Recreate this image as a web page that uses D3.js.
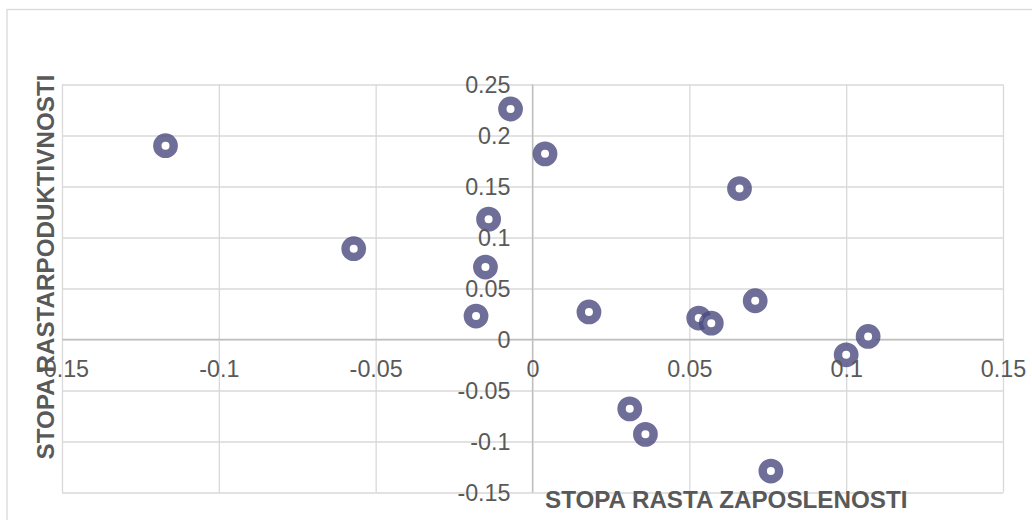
<!DOCTYPE html>
<html>
<head>
<meta charset="utf-8">
<script src="https://cdn.jsdelivr.net/npm/d3@7"></script>
<style>
  body { margin: 0; background: #fff; }
  svg { display: block; font-family: "Liberation Sans", Arial, sans-serif; }
  .tick-label text { fill: #595959; font-size: 23.3px; }
  .axis-title { fill: #595959; font-size: 24.2px; font-weight: bold; }
</style>
</head>
<body>
<div id="chart"></div>
<script>
// stopa rasta zaposlenosti (x) / stopa rasta produktivnosti (y)
var employmentGrowth = [-0.117, -0.057, -0.007, 0.004, -0.014, -0.015, -0.018, 0.018, 0.066,
  0.053, 0.057, 0.071, 0.107, 0.1, 0.031, 0.036, 0.076];
var productivityGrowth = [0.19, 0.089, 0.226, 0.182, 0.118, 0.071, 0.023, 0.027, 0.148,
  0.021, 0.016, 0.038, 0.003, -0.015, -0.068, -0.093, -0.129];

var xTicks = [-0.15, -0.1, -0.05, 0, 0.05, 0.1, 0.15];
var yTicks = [-0.15, -0.1, -0.05, 0, 0.05, 0.1, 0.15, 0.2, 0.25];

var xTitle = "STOPA RASTA ZAPOSLENOSTI";
var yTitle = "STOPA RASTARPODUKTIVNOSTI";

var width = 1032, height = 520;
var margin = { top: 84.5, right: 29, bottom: 27.5, left: 62 };

var points = employmentGrowth.map((d, i) => ({ x: d, y: productivityGrowth[i] }));

var fmt = (d) => String(+d.toFixed(2));

var svg = d3
  .select("#chart")
  .append("svg")
  .attr("width", width)
  .attr("height", height);

// chart border (only top/left fall inside the picture)
svg
  .append("rect")
  .attr("x", 7)
  .attr("y", 9.5)
  .attr("width", width + 20)
  .attr("height", height + 20)
  .attr("fill", "none")
  .attr("stroke", "#d9d9d9")
  .attr("stroke-width", 1.3);

var x = d3
  .scaleLinear()
  .domain([-0.15, 0.15])
  .range([margin.left, width - margin.right]);

var y = d3
  .scaleLinear()
  .domain([-0.15, 0.25])
  .range([height - margin.bottom, margin.top]);

// vertical gridlines
var gx = svg
  .append("g")
  .attr("transform", "translate(0," + y(-0.15) + ")")
  .call(
    d3.axisBottom(x)
      .tickValues(xTicks)
      .tickSize(-(y(-0.15) - y(0.25)))
      .tickFormat("")
  );
gx.select(".domain").remove();
gx.selectAll("line").attr("stroke", "#d9d9d9").attr("stroke-width", 1.3);

// horizontal gridlines
var gy = svg
  .append("g")
  .attr("transform", "translate(" + x(-0.15) + ",0)")
  .call(
    d3.axisLeft(y)
      .tickValues(yTicks)
      .tickSize(-(x(0.15) - x(-0.15)))
      .tickFormat("")
  );
gy.select(".domain").remove();
gy.selectAll("line").attr("stroke", "#d9d9d9").attr("stroke-width", 1.3);

// zero axis lines
svg
  .append("line")
  .attr("x1", x(-0.15))
  .attr("x2", x(0.15))
  .attr("y1", y(0))
  .attr("y2", y(0))
  .attr("stroke", "#bfbfbf")
  .attr("stroke-width", 1.3);

svg
  .append("line")
  .attr("x1", x(0))
  .attr("x2", x(0))
  .attr("y1", y(-0.15))
  .attr("y2", y(0.25))
  .attr("stroke", "#bfbfbf")
  .attr("stroke-width", 1.3);

// points
svg
  .append("g")
  .selectAll("circle")
  .data(points)
  .enter()
  .append("circle")
  .attr("cx", (d) => x(d.x))
  .attr("cy", (d) => y(d.y))
  .attr("r", 8.2)
  .attr("fill", "#fff")
  .attr("stroke", "#4a4a80")
  .attr("stroke-opacity", 0.8)
  .attr("stroke-width", 8.4);

// y tick labels at the zero line
var yLab = svg
  .append("g")
  .attr("class", "tick-label")
  .attr("transform", "translate(" + x(0) + ",0)")
  .call(d3.axisLeft(y).tickValues(yTicks).tickSize(0).tickPadding(22).tickFormat(fmt));
yLab.select(".domain").remove();
yLab.selectAll("text").attr("font-family", null).attr("font-size", null).attr("dy", "0.35em");

// x tick labels at the zero line
var xLab = svg
  .append("g")
  .attr("class", "tick-label")
  .attr("transform", "translate(0," + y(0) + ")")
  .call(d3.axisBottom(x).tickValues(xTicks).tickSize(0).tickPadding(21).tickFormat(fmt));
xLab.select(".domain").remove();
xLab.selectAll("text").attr("font-family", null).attr("font-size", null);

// axis titles
svg
  .append("text")
  .attr("class", "axis-title")
  .attr("x", 545)
  .attr("y", 508)
  .text(xTitle);

svg
  .append("text")
  .attr("class", "axis-title")
  .attr("transform", "translate(54," + 267 + ") rotate(-90)")
  .attr("text-anchor", "middle")
  .text(yTitle);
</script>
</body>
</html>
